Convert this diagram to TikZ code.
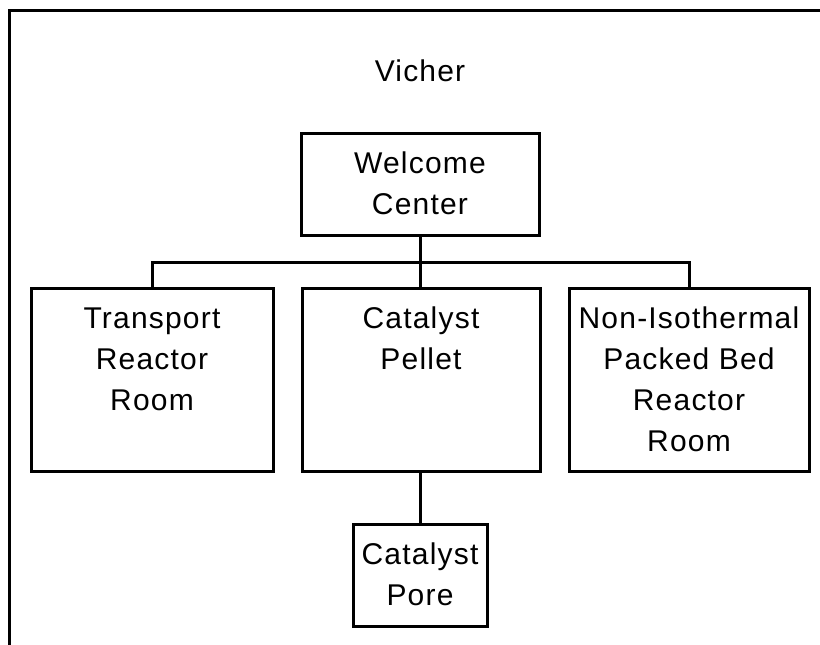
\documentclass[tikz,border=0pt]{standalone}
\usepackage{fontspec}
\setmainfont{Liberation Sans}[LetterSpace=4]
\newcommand{\boxtext}[3]{\parbox[c][#2pt][t]{#1pt}{\centering\fontsize{30}{41}\selectfont\rule{0pt}{40.5pt}#3\par}}
\begin{document}
\begin{tikzpicture}[x=1pt,y=-1pt,
  room/.style={draw=black, line width=3pt, inner sep=0pt, rectangle},
  link/.style={draw=black, line width=3pt},
  frame/.style={draw=black, line width=3pt},
  titletext/.style={font=\fontsize{30}{41}\selectfont, inner sep=0pt, anchor=base}]
\useasboundingbox (0,0) rectangle (820,645);
\coordinate (fbl) at (9.5,646);
\coordinate (ftl) at (9.5,10.5);
\coordinate (ftr) at (821,10.5);
\draw[frame] (fbl) -- (ftl) -- (ftr);
\node[titletext] (title) at (420,81) {Vicher};
\node[room] (welcome) at (420,184) {\boxtext{238}{102}{Welcome\\Center}};
\node[room] (transport) at (152,379.5) {\boxtext{242}{183}{Transport\\Reactor\\Room}};
\node[room] (pellet) at (421,379.5) {\boxtext{238}{183}{Catalyst\\Pellet}};
\node[room] (nonisothermal) at (689,379.5) {\boxtext{240}{183}{Non-Isothermal\\Packed Bed\\Reactor\\Room}};
\node[room] (pore) at (420,575) {\boxtext{134}{102}{Catalyst\\Pore}};
\coordinate (bus) at (420,262);
\draw[link] (welcome.south) -- (bus);
\draw[link] (pellet.north -| bus) -- (bus);
\draw[link] (transport.north) |- (bus) -| (nonisothermal.north);
\draw[link] (pellet.south -| pore.north) -- (pore.north);
\end{tikzpicture}
\end{document}
